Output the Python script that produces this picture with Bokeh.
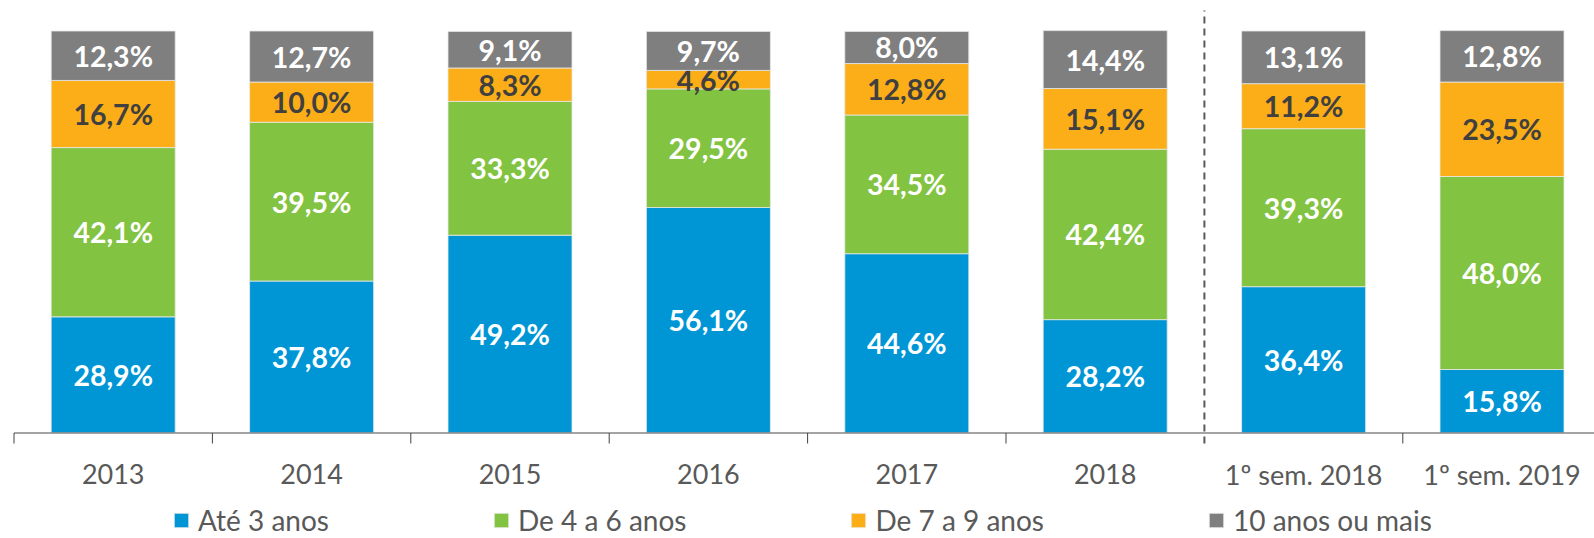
from bokeh.plotting import figure
from bokeh.models import Range1d, ColumnDataSource, Legend, LegendItem
from bokeh.core.properties import value
from bokeh.embed import file_html
from bokeh.resources import INLINE

categories = ["2013", "2014", "2015", "2016", "2017", "2018", "1º sem. 2018", "1º sem. 2019"]
ate3 = [28.9, 37.8, 49.2, 56.1, 44.6, 28.2, 36.4, 15.8]
de4a6 = [42.1, 39.5, 33.3, 29.5, 34.5, 42.4, 39.3, 48.0]
de7a9 = [16.7, 10.0, 8.3, 4.6, 12.8, 15.1, 11.2, 23.5]
mais10 = [12.3, 12.7, 9.1, 9.7, 8.0, 14.4, 13.1, 12.8]
series_names = ["Até 3 anos", "De 4 a 6 anos", "De 7 a 9 anos", "10 anos ou mais"]
series_values = [ate3, de4a6, de7a9, mais10]
colors = ["#0096D6", "#82C341", "#FBAE17", "#7F7F7F"]
label_colors = ["white", "white", "#404040", "white"]
separator_after = 5  # dashed line after "2018"

FONT = value("Lato")
PX_X = 198.4
PX_Y = 4.02
W, H = 1594, 538
AXIS_PX = 432.5
X0_PX = 112.7

p = figure(width=W, height=H, output_backend="svg", toolbar_location=None,
           x_range=Range1d(-X0_PX / PX_X, (W - X0_PX) / PX_X),
           y_range=Range1d(-(H - AXIS_PX) / PX_Y, AXIS_PX / PX_Y),
           x_axis_type=None, y_axis_type=None, min_border=0)
p.grid.visible = False
p.outline_line_color = None
p.background_fill_color = "white"
p.border_fill_color = "white"

n = len(categories)
xs = list(range(n))
bottom = [0.0] * n
renderers = []
for name, vals, col, lc in zip(series_names, series_values, colors, label_colors):
    top = [b + v for b, v in zip(bottom, vals)]
    src = ColumnDataSource(dict(x=xs, bottom=bottom, top=top,
                                y=[(b + t) / 2 for b, t in zip(bottom, top)],
                                lab=[f"{v:.1f}".replace(".", ",") + "%" for v in vals]))
    r = p.vbar(x="x", bottom="bottom", top="top", width=0.625, source=src,
               fill_color=col, line_color="#E8E8E8", line_width=0.8)
    renderers.append((name, r))
    p.text(x="x", y="y", text="lab", source=src, text_align="center", text_baseline="middle",
           text_font=FONT, text_font_style="bold", text_font_size="28.5px", text_color=lc)
    bottom = top

# axis line and ticks
tick_len = 10.5 / PX_Y
bounds = [i - 0.5 for i in range(n + 1)]
p.segment(x0=[-0.5], y0=[0], x1=[n + 1], y1=[0], line_color="#868686", line_width=1.5)
tb = [b for b in bounds if b != separator_after + 0.5]
p.segment(x0=tb, y0=[0] * len(tb), x1=tb, y1=[-tick_len] * len(tb), line_color="#404040", line_width=1)
# dashed separator
p.segment(x0=[separator_after + 0.5], y0=[-tick_len], x1=[separator_after + 0.5], y1=[(AXIS_PX - 10) / PX_Y],
          line_color="#595959", line_width=2, line_dash="7 5")

# category labels
lab_y = -(473.5 - AXIS_PX) / PX_Y
p.text(x=xs, y=[lab_y] * n, text=categories, text_align="center", text_baseline="middle",
       text_font=FONT, text_font_size="27px", text_color="#595959")

legend = Legend(items=[LegendItem(label=nm, renderers=[r]) for nm, r in renderers],
                orientation="horizontal", location=(172, 1),
                glyph_width=18, glyph_height=18, label_standoff=8, spacing=163,
                padding=0, margin=0, border_line_alpha=0, background_fill_alpha=0,
                label_text_font="Lato", label_text_font_size="28px", label_text_color="#595959")
p.add_layout(legend)

open("out.html", "w").write(file_html(p, INLINE))
